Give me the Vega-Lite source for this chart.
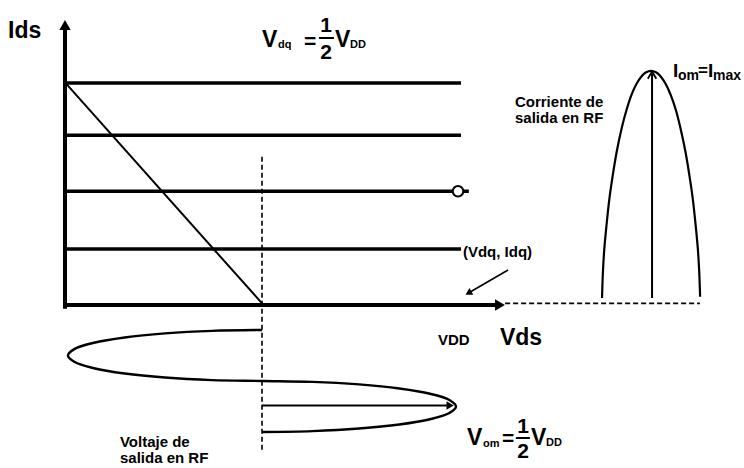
{
  "$schema": "https://vega.github.io/schema/vega-lite/v6.json",
  "width": 744,
  "height": 468,
  "padding": 0,
  "autosize": "none",
  "background": "white",
  "config": {"view": {"stroke": null}, "font": "Liberation Sans"},
  "datasets": {
    "axes": [
      {"x": 0, "y": -0.03, "x2": 0, "y2": 5.0},
      {"x": 0, "y": 0, "x2": 2.2, "y2": 0}
    ],
    "levels": [
      {"x": 0, "y": 4.0, "x2": 2.01, "y2": 4.0},
      {"x": 0, "y": 3.06, "x2": 2.01, "y2": 3.06},
      {"x": 0, "y": 2.05, "x2": 2.05, "y2": 2.05},
      {"x": 0, "y": 1.01, "x2": 2.01, "y2": 1.01}
    ],
    "load": [{"x": 0.01, "y": 3.97, "x2": 1.0, "y2": 0.03}],
    "guides": [
      {"x": 1.0, "y": 2.67, "x2": 1.0, "y2": -2.65},
      {"x": 2.234, "y": 0.03, "x2": 3.223, "y2": 0.03}
    ],
    "shafts": [
      {"x": 2.98, "y": 0.126, "x2": 2.98, "y2": 4.17},
      {"x": 1.0, "y": -1.81, "x2": 1.95, "y2": -1.81}
    ],
    "pointer": [{"x": 2.249, "y": 0.631, "x2": 2.048, "y2": 0.216}],
    "fracbars": [
      {"x": 1.289, "y": 4.811, "x2": 1.365, "y2": 4.811},
      {"x": 2.289, "y": -2.396, "x2": 2.360, "y2": -2.396}
    ],
    "bell": [
      {"i": 0, "x": 2.726, "y": 0.126},
      {"i": 1, "x": 2.731, "y": 0.628},
      {"i": 2, "x": 2.738, "y": 1.028},
      {"i": 3, "x": 2.751, "y": 1.517},
      {"i": 4, "x": 2.763, "y": 1.905},
      {"i": 5, "x": 2.776, "y": 2.233},
      {"i": 6, "x": 2.801, "y": 2.769},
      {"i": 7, "x": 2.826, "y": 3.189},
      {"i": 8, "x": 2.851, "y": 3.522},
      {"i": 9, "x": 2.875, "y": 3.781},
      {"i": 10, "x": 2.900, "y": 3.977},
      {"i": 11, "x": 2.925, "y": 4.113},
      {"i": 12, "x": 2.950, "y": 4.193},
      {"i": 13, "x": 2.975, "y": 4.220},
      {"i": 14, "x": 3.000, "y": 4.193},
      {"i": 15, "x": 3.025, "y": 4.113},
      {"i": 16, "x": 3.050, "y": 3.977},
      {"i": 17, "x": 3.075, "y": 3.781},
      {"i": 18, "x": 3.100, "y": 3.522},
      {"i": 19, "x": 3.124, "y": 3.189},
      {"i": 20, "x": 3.149, "y": 2.769},
      {"i": 21, "x": 3.174, "y": 2.233},
      {"i": 22, "x": 3.187, "y": 1.905},
      {"i": 23, "x": 3.199, "y": 1.517},
      {"i": 24, "x": 3.212, "y": 1.028},
      {"i": 25, "x": 3.219, "y": 0.628},
      {"i": 26, "x": 3.224, "y": 0.150}
    ],
    "wave": [
      {"i": 0, "x": 1.000, "y": -0.450},
      {"i": 1, "x": 0.745, "y": -0.466},
      {"i": 2, "x": 0.508, "y": -0.512},
      {"i": 3, "x": 0.303, "y": -0.585},
      {"i": 4, "x": 0.147, "y": -0.680},
      {"i": 5, "x": 0.049, "y": -0.791},
      {"i": 6, "x": 0.015, "y": -0.910},
      {"i": 7, "x": 0.049, "y": -1.028},
      {"i": 8, "x": 0.147, "y": -1.139},
      {"i": 9, "x": 0.303, "y": -1.234},
      {"i": 10, "x": 0.508, "y": -1.307},
      {"i": 11, "x": 0.745, "y": -1.353},
      {"i": 12, "x": 1.000, "y": -1.369},
      {"i": 13, "x": 1.255, "y": -1.385},
      {"i": 14, "x": 1.4925, "y": -1.431},
      {"i": 15, "x": 1.697, "y": -1.504},
      {"i": 16, "x": 1.853, "y": -1.599},
      {"i": 17, "x": 1.951, "y": -1.710},
      {"i": 18, "x": 1.985, "y": -1.829},
      {"i": 19, "x": 1.951, "y": -1.947},
      {"i": 20, "x": 1.853, "y": -2.058},
      {"i": 21, "x": 1.697, "y": -2.153},
      {"i": 22, "x": 1.4925, "y": -2.226},
      {"i": 23, "x": 1.255, "y": -2.272},
      {"i": 24, "x": 1.000, "y": -2.288}
    ],
    "texts": [
      {"t": "Ids", "x": -0.289, "y": 4.811, "role": "label"},
      {"t": "V", "x": 1.0, "y": 4.649, "role": "V"},
      {"t": "dq", "x": 1.081, "y": 4.631, "role": "sub"},
      {"t": "V", "x": 1.371, "y": 4.649, "role": "V"},
      {"t": "DD", "x": 1.447, "y": 4.631, "role": "sub"},
      {"t": "Corriente de", "x": 2.284, "y": 3.568, "role": "note"},
      {"t": "salida en RF", "x": 2.284, "y": 3.279, "role": "note"},
      {"t": "I", "x": 3.086, "y": 4.108, "role": "I"},
      {"t": "om", "x": 3.112, "y": 4.054, "role": "sub2"},
      {"t": "=", "x": 3.213, "y": 4.126, "role": "eq2"},
      {"t": "I", "x": 3.264, "y": 4.108, "role": "I"},
      {"t": "max", "x": 3.289, "y": 4.054, "role": "sub2"},
      {"t": "(Vdq, Idq)", "x": 2.020, "y": 0.865, "role": "note"},
      {"t": "VDD", "x": 1.893, "y": -0.721, "role": "small"},
      {"t": "Vds", "x": 2.208, "y": -0.721, "role": "axis"},
      {"t": "Voltaje de", "x": 0.279, "y": -2.559, "role": "note"},
      {"t": "salida en RF", "x": 0.279, "y": -2.847, "role": "note"},
      {"t": "V", "x": 2.041, "y": -2.523, "role": "V"},
      {"t": "om", "x": 2.122, "y": -2.559, "role": "sub"},
      {"t": "V", "x": 2.366, "y": -2.523, "role": "V"},
      {"t": "DD", "x": 2.442, "y": -2.541, "role": "sub"},
      {"t": "=", "x": 1.244, "y": 4.631, "role": "eq"},
      {"t": "1", "x": 1.325, "y": 4.919, "role": "num"},
      {"t": "2", "x": 1.325, "y": 4.432, "role": "num"},
      {"t": "=", "x": 2.249, "y": -2.523, "role": "eq"},
      {"t": "1", "x": 2.325, "y": -2.306, "role": "num"},
      {"t": "2", "x": 2.325, "y": -2.757, "role": "num"}
    ]
  },
  "encoding": {
    "x": {"field": "x", "type": "quantitative", "axis": null,
          "scale": {"domain": [-0.32995, 3.4467], "nice": false, "zero": false}},
    "y": {"field": "y", "type": "quantitative", "axis": null,
          "scale": {"domain": [-2.93694, 5.4955], "nice": false, "zero": false}}
  },
  "layer": [
    {"data": {"name": "guides"}, "mark": {"type": "rule", "color": "black", "strokeWidth": 1.6, "strokeDash": [5, 3]},
     "encoding": {"x2": {"field": "x2"}, "y2": {"field": "y2"}}},
    {"data": {"name": "levels"}, "mark": {"type": "rule", "color": "black", "strokeWidth": 3.5},
     "encoding": {"x2": {"field": "x2"}, "y2": {"field": "y2"}}},
    {"data": {"name": "axes"}, "mark": {"type": "rule", "color": "black", "strokeWidth": 4, "strokeCap": "square"},
     "encoding": {"x2": {"field": "x2"}, "y2": {"field": "y2"}}},
    {"data": {"name": "load"}, "mark": {"type": "rule", "color": "black", "strokeWidth": 2},
     "encoding": {"x2": {"field": "x2"}, "y2": {"field": "y2"}}},
    {"data": {"name": "shafts"}, "mark": {"type": "rule", "color": "black", "strokeWidth": 2},
     "encoding": {"x2": {"field": "x2"}, "y2": {"field": "y2"}}},
    {"data": {"name": "pointer"}, "mark": {"type": "rule", "color": "black", "strokeWidth": 1.6},
     "encoding": {"x2": {"field": "x2"}, "y2": {"field": "y2"}}},
    {"data": {"name": "fracbars"}, "mark": {"type": "rule", "color": "black", "strokeWidth": 2},
     "encoding": {"x2": {"field": "x2"}, "y2": {"field": "y2"}}},
    {"data": {"name": "bell"}, "mark": {"type": "line", "color": "black", "strokeWidth": 2.2, "interpolate": "catmull-rom"},
     "encoding": {"order": {"field": "i", "type": "quantitative"}}},
    {"data": {"name": "wave"}, "mark": {"type": "line", "color": "black", "strokeWidth": 2.4, "interpolate": "catmull-rom"},
     "encoding": {"order": {"field": "i", "type": "quantitative"}}},
    {"data": {"values": [{"x": 0, "y": 5.045}]},
     "mark": {"type": "point", "shape": "triangle-up", "filled": true, "color": "black", "size": 130, "opacity": 1}},
    {"data": {"values": [{"x": 2.208, "y": 0.0}]},
     "mark": {"type": "point", "shape": "triangle-right", "filled": true, "color": "black", "size": 130, "opacity": 1}},
    {"data": {"values": [{"x": 1.955, "y": -1.81}]},
     "mark": {"type": "point", "shape": "triangle-right", "filled": true, "color": "black", "size": 70, "opacity": 1}},
    {"data": {"values": [{"x": 2.048, "y": 0.216}]},
     "mark": {"type": "point", "shape": "triangle-up", "angle": 240, "filled": true, "color": "black", "size": 60, "opacity": 1}},
    {"data": {"values": [{"x": 2.98, "y": 4.205}]},
     "mark": {"type": "point", "shape": "M-0.6,1L0,0L0.6,1", "filled": false, "stroke": "black", "strokeWidth": 1.8, "size": 200, "opacity": 1}},
    {"data": {"values": [{"x": 1.995, "y": 2.05}]},
     "mark": {"type": "point", "shape": "circle", "filled": true, "fill": "white", "stroke": "black", "strokeWidth": 2, "size": 110, "opacity": 1}},
    {"data": {"name": "texts"}, "transform": [{"filter": "datum.role === 'label'"}],
     "mark": {"type": "text", "align": "left", "baseline": "alphabetic", "fontWeight": "bold", "fontSize": 23, "color": "black"},
     "encoding": {"text": {"field": "t"}}},
    {"data": {"name": "texts"}, "transform": [{"filter": "datum.role === 'axis'"}],
     "mark": {"type": "text", "align": "left", "baseline": "alphabetic", "fontWeight": "bold", "fontSize": 23, "color": "black"},
     "encoding": {"text": {"field": "t"}}},
    {"data": {"name": "texts"}, "transform": [{"filter": "datum.role === 'small'"}],
     "mark": {"type": "text", "align": "left", "baseline": "alphabetic", "fontWeight": "bold", "fontSize": 15, "color": "black"},
     "encoding": {"text": {"field": "t"}}},
    {"data": {"name": "texts"}, "transform": [{"filter": "datum.role === 'note'"}],
     "mark": {"type": "text", "align": "left", "baseline": "alphabetic", "fontWeight": "bold", "fontSize": 15, "color": "black"},
     "encoding": {"text": {"field": "t"}}},
    {"data": {"name": "texts"}, "transform": [{"filter": "datum.role === 'V'"}],
     "mark": {"type": "text", "align": "left", "baseline": "alphabetic", "fontWeight": "bold", "fontSize": 23, "color": "black"},
     "encoding": {"text": {"field": "t"}}},
    {"data": {"name": "texts"}, "transform": [{"filter": "datum.role === 'sub'"}],
     "mark": {"type": "text", "align": "left", "baseline": "alphabetic", "fontWeight": "bold", "fontSize": 11, "color": "black"},
     "encoding": {"text": {"field": "t"}}},
    {"data": {"name": "texts"}, "transform": [{"filter": "datum.role === 'I'"}],
     "mark": {"type": "text", "align": "left", "baseline": "alphabetic", "fontWeight": "bold", "fontSize": 19, "color": "black"},
     "encoding": {"text": {"field": "t"}}},
    {"data": {"name": "texts"}, "transform": [{"filter": "datum.role === 'sub2'"}],
     "mark": {"type": "text", "align": "left", "baseline": "alphabetic", "fontWeight": "bold", "fontSize": 14, "color": "black"},
     "encoding": {"text": {"field": "t"}}},
    {"data": {"name": "texts"}, "transform": [{"filter": "datum.role === 'eq2'"}],
     "mark": {"type": "text", "align": "left", "baseline": "alphabetic", "fontWeight": "bold", "fontSize": 17, "color": "black"},
     "encoding": {"text": {"field": "t"}}},
    {"data": {"name": "texts"}, "transform": [{"filter": "datum.role === 'eq' || datum.role === 'num'"}],
     "mark": {"type": "text", "align": "center", "baseline": "alphabetic", "fontWeight": "bold", "fontSize": 21, "color": "black"},
     "encoding": {"text": {"field": "t"}}}
  ]
}
